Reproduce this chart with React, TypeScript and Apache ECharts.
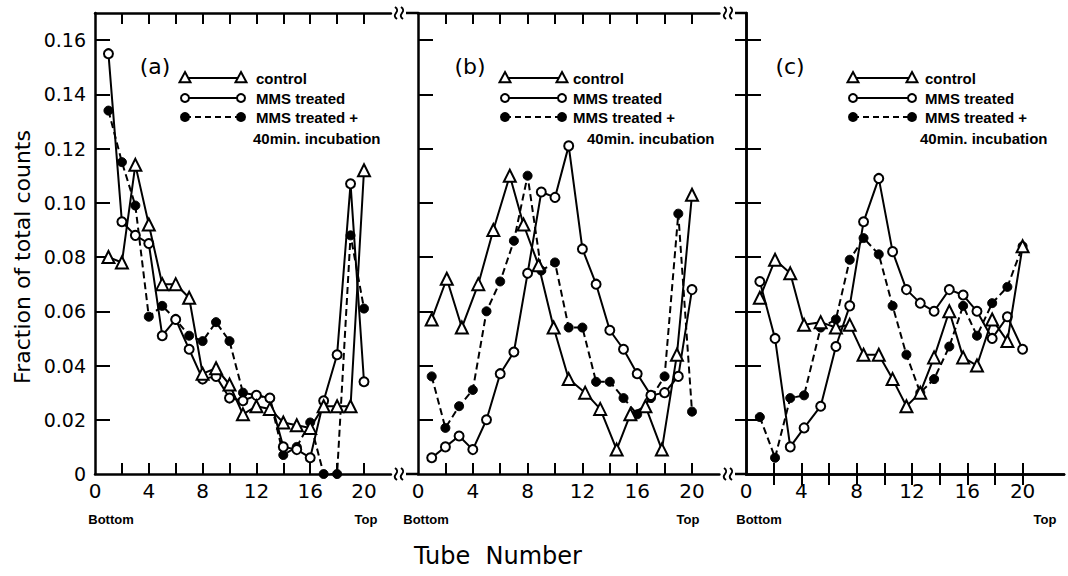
import React, { useEffect, useRef } from "react";
import * as echarts from "echarts";

// ---------- data ----------
// tube positions at which points are plotted
const tubeNumbers = [1, 2, 3, 4, 5, 6, 7, 8, 9, 10, 11, 12, 13, 14, 15, 16, 17, 18, 19, 20];
const controlBTubes = [1, 2.1, 3.2, 4.4, 5.5, 6.7, 7.7, 8.8, 9.9, 11.0, 12.2, 13.3, 14.5, 15.5, 16.6, 17.8, 18.9, 20];
const panelCTubes = [1, 2.1, 3.2, 4.2, 5.4, 6.5, 7.5, 8.5, 9.6, 10.6, 11.6, 12.6, 13.6, 14.7, 15.7, 16.7, 17.8, 18.9, 20];

const xTickValues = [2, 4, 6, 8, 10, 12, 14, 16, 18, 20];
const xLabelValues = [0, 4, 8, 12, 16, 20];
const yTickValues = [0.02, 0.04, 0.06, 0.08, 0.1, 0.12, 0.14, 0.16];
const yLabelValues = [0, 0.02, 0.04, 0.06, 0.08, 0.1, 0.12, 0.14, 0.16];

const panelLabels = ["(a)", "(b)", "(c)"];
const legendTexts = ["control", "MMS treated", "MMS treated +", "40min. incubation"];

// panel (a)
const controlA = [0.080, 0.078, 0.114, 0.092, 0.070, 0.070, 0.065, 0.037, 0.039, 0.033, 0.022, 0.025, 0.024, 0.019, 0.018, 0.017, 0.025, 0.025, 0.025, 0.112];
const treatedA = [0.155, 0.093, 0.088, 0.085, 0.051, 0.057, 0.046, 0.035, 0.036, 0.028, 0.027, 0.029, 0.028, 0.010, 0.009, 0.006, 0.027, 0.044, 0.107, 0.034];
const incubatedA = [0.134, 0.115, 0.099, 0.058, 0.062, 0.057, 0.051, 0.049, 0.056, 0.049, 0.030, 0.029, 0.028, 0.007, 0.010, 0.019, 0.0, 0.0, 0.088, 0.061];

// panel (b)
const controlB = [0.057, 0.072, 0.054, 0.070, 0.090, 0.110, 0.092, 0.077, 0.054, 0.035, 0.030, 0.024, 0.009, 0.022, 0.025, 0.009, 0.044, 0.103];
const treatedB = [0.006, 0.010, 0.014, 0.009, 0.020, 0.037, 0.045, 0.074, 0.104, 0.102, 0.121, 0.083, 0.070, 0.053, 0.046, 0.037, 0.029, 0.030, 0.036, 0.068];
const incubatedB = [0.036, 0.017, 0.025, 0.031, 0.060, 0.071, 0.086, 0.110, 0.075, 0.078, 0.054, 0.054, 0.034, 0.034, 0.028, 0.022, 0.028, 0.036, 0.096, 0.023];

// panel (c)
const controlC = [0.065, 0.079, 0.074, 0.055, 0.056, 0.054, 0.055, 0.044, 0.044, 0.035, 0.025, 0.030, 0.043, 0.060, 0.043, 0.040, 0.057, 0.049, 0.084];
const treatedC = [0.071, 0.050, 0.010, 0.017, 0.025, 0.047, 0.062, 0.093, 0.109, 0.082, 0.068, 0.063, 0.060, 0.068, 0.066, 0.060, 0.050, 0.058, 0.046];
const incubatedC = [0.021, 0.006, 0.028, 0.029, 0.054, 0.057, 0.079, 0.087, 0.081, 0.062, 0.044, 0.030, 0.035, 0.047, 0.062, 0.051, 0.063, 0.069, 0.084];

const panels = [
  { control: [tubeNumbers, controlA], treated: [tubeNumbers, treatedA], incubated: [tubeNumbers, incubatedA] },
  { control: [controlBTubes, controlB], treated: [tubeNumbers, treatedB], incubated: [tubeNumbers, incubatedB] },
  { control: [panelCTubes, controlC], treated: [panelCTubes, treatedC], incubated: [panelCTubes, incubatedC] },
];

// ---------- layout ----------
const TOP = 13;
const BOTTOM = 474;
const Y_MAX = 0.17;
const gridDefs = [
  { left: 95, unit: 13.45, xMax: 22 },
  { left: 418, unit: 13.7, xMax: 22 },
  { left: 746, unit: 13.83, xMax: 23 },
];
const legendDefs = [
  { l1: 185, l2: 241, tx: 256, tx4: 253, lx: 155 },
  { l1: 505, l2: 562, tx: 573, tx4: 587, lx: 470 },
  { l1: 853, l2: 912, tx: 925, tx4: 920, lx: 790 },
];
const bottomTopDefs = [
  { b: 111, t: 366 },
  { b: 426, t: 688 },
  { b: 759, t: 1045 },
];

const FONT = '"DejaVu Sans", sans-serif';
const LFONT = 'bold 15px "Liberation Sans", sans-serif';

function toPairs(xs: number[], vals: number[]) {
  return xs.map((t, i) => [t, vals[i]]);
}

function triPoints(cx: number, cy: number, s: number) {
  return [
    [cx, cy - s * 0.6],
    [cx + s * 0.55, cy + s * 0.42],
    [cx - s * 0.55, cy + s * 0.42],
  ];
}

function squiggle(x: number, y: number) {
  return {
    type: "bezierCurve",
    shape: { x1: x - 1, y1: y - 6, x2: x + 1, y2: y + 6, cpx1: x + 6, cpy1: y - 1, cpx2: x - 6, cpy2: y + 1 },
    style: { stroke: "#000", lineWidth: 2, fill: null },
  };
}

function txt(x: number, y: number, text: string, font: string, align = "left", rotation = 0) {
  return {
    type: "text",
    x,
    y,
    rotation,
    style: {
      text,
      font,
      fill: "#000",
      align,
      verticalAlign: "middle",
      textAlign: align,
      textVerticalAlign: "middle",
    },
  };
}

export default function App() {
  const ref = useRef<HTMLDivElement>(null);

  useEffect(() => {
    if (!ref.current) return;
    const chart = echarts.init(ref.current, null, { renderer: "svg" });

    const grid: any[] = [];
    const xAxis: any[] = [];
    const yAxis: any[] = [];
    const series: any[] = [];
    const graphic: any[] = [];

    gridDefs.forEach((g, i) => {
      grid.push({ left: g.left, top: TOP, width: g.xMax * g.unit, height: BOTTOM - TOP });
      const axisLine = { show: true, lineStyle: { color: "#000", width: 2.5 } };
      xAxis.push({
        gridIndex: i,
        type: "value",
        min: 0,
        max: g.xMax,
        position: "bottom",
        axisLine,
        axisTick: { show: true, inside: true, length: 11, customValues: xTickValues, lineStyle: { color: "#000", width: 2 } },
        axisLabel: { show: true, customValues: xLabelValues, color: "#000", fontSize: 20, fontFamily: FONT, margin: 7 },
        splitLine: { show: false },
      });
      xAxis.push({
        gridIndex: i,
        type: "value",
        min: 0,
        max: g.xMax,
        position: "top",
        axisLine,
        axisTick: { show: true, inside: true, length: 11, customValues: xTickValues, lineStyle: { color: "#000", width: 2 } },
        axisLabel: { show: false },
        splitLine: { show: false },
      });
      yAxis.push({
        gridIndex: i,
        type: "value",
        min: 0,
        max: Y_MAX,
        position: "left",
        axisLine,
        axisTick: { show: true, inside: true, length: 15, customValues: yTickValues, lineStyle: { color: "#000", width: 2 } },
        axisLabel: {
          show: i === 0,
          customValues: yLabelValues,
          color: "#000",
          fontSize: 19,
          fontFamily: FONT,
          margin: 9,
          formatter: (v: number) => (v === 0 ? "0" : v.toFixed(2)),
        },
        splitLine: { show: false },
      });
    });
    yAxis.push({
      gridIndex: 2,
      type: "value",
      min: 0,
      max: Y_MAX,
      position: "right",
      axisLine: { show: true, lineStyle: { color: "#000", width: 2.5 } },
      axisTick: { show: true, inside: true, length: 11, customValues: yTickValues, lineStyle: { color: "#000", width: 2 } },
      axisLabel: { show: false },
      splitLine: { show: false },
    });

    panels.forEach((p, i) => {
      series.push({
        type: "line",
        name: "MMS treated + 40min. incubation (" + "abc"[i] + ")",
        xAxisIndex: i * 2,
        yAxisIndex: i,
        data: toPairs(p.incubated[0], p.incubated[1]),
        symbol: "circle",
        symbolSize: 9,
        lineStyle: { color: "#000", width: 2, type: [7, 4] },
        itemStyle: { color: "#000", borderColor: "#000", borderWidth: 1 },
        z: 2,
      });
      series.push({
        type: "line",
        name: "MMS treated (" + "abc"[i] + ")",
        xAxisIndex: i * 2,
        yAxisIndex: i,
        data: toPairs(p.treated[0], p.treated[1]),
        symbol: "circle",
        symbolSize: 9,
        lineStyle: { color: "#000", width: 2 },
        itemStyle: { color: "#fff", borderColor: "#000", borderWidth: 2 },
        z: 3,
      });
      series.push({
        type: "line",
        name: "control (" + "abc"[i] + ")",
        xAxisIndex: i * 2,
        yAxisIndex: i,
        data: toPairs(p.control[0], p.control[1]),
        symbol: "triangle",
        symbolSize: 12,
        lineStyle: { color: "#000", width: 2 },
        itemStyle: { color: "#fff", borderColor: "#000", borderWidth: 2 },
        z: 4,
      });
    });

    legendDefs.forEach((d, i) => {
      graphic.push(txt(d.lx, 66, panelLabels[i], '22px "DejaVu Sans", sans-serif', "center"));
      const rows = [78, 98, 117];
      rows.forEach((y, r) => {
        graphic.push({
          type: "line",
          shape: { x1: d.l1, y1: y, x2: d.l2, y2: y },
          style: { stroke: "#000", lineWidth: 2, lineDash: r === 2 ? [6, 4] : null },
        });
        [d.l1, d.l2].forEach((x) => {
          if (r === 0) {
            graphic.push({ type: "polygon", shape: { points: triPoints(x, y, 10) }, style: { fill: "#fff", stroke: "#000", lineWidth: 2 } });
          } else {
            graphic.push({ type: "circle", shape: { cx: x, cy: y, r: 4 }, style: { fill: r === 2 ? "#000" : "#fff", stroke: "#000", lineWidth: 2 } });
          }
        });
        graphic.push(txt(d.tx, y, legendTexts[r], LFONT));
      });
      graphic.push(txt(d.tx4, 138, legendTexts[3], LFONT));
    });

    bottomTopDefs.forEach((d) => {
      graphic.push(txt(d.b, 519, "Bottom", 'bold 13px "Liberation Sans", sans-serif', "center"));
      graphic.push(txt(d.t, 519, "Top", 'bold 13px "Liberation Sans", sans-serif', "center"));
    });

    graphic.push(txt(22, 257, "Fraction of total counts", '22px "DejaVu Sans", sans-serif', "center", Math.PI / 2));
    graphic.push(txt(498, 556, "Tube  Number", '24px "DejaVu Sans", sans-serif', "center"));

    [TOP, BOTTOM].forEach((y) => {
      graphic.push({ type: "line", shape: { x1: 406, y1: y, x2: 418, y2: y }, style: { stroke: "#000", lineWidth: 2.5 } });
      graphic.push({ type: "line", shape: { x1: 735, y1: y, x2: 746, y2: y }, style: { stroke: "#000", lineWidth: 2.5 } });
      graphic.push(squiggle(396, y));
      graphic.push(squiggle(402, y));
      graphic.push(squiggle(725, y));
      graphic.push(squiggle(731, y));
    });

    chart.setOption({
      animation: false,
      backgroundColor: "#fff",
      grid,
      xAxis,
      yAxis,
      series,
      graphic,
    });

    return () => chart.dispose();
  }, []);

  return <div ref={ref} style={{ position: "fixed", left: 0, top: 0, width: 1068, height: 576 }} />;
}
